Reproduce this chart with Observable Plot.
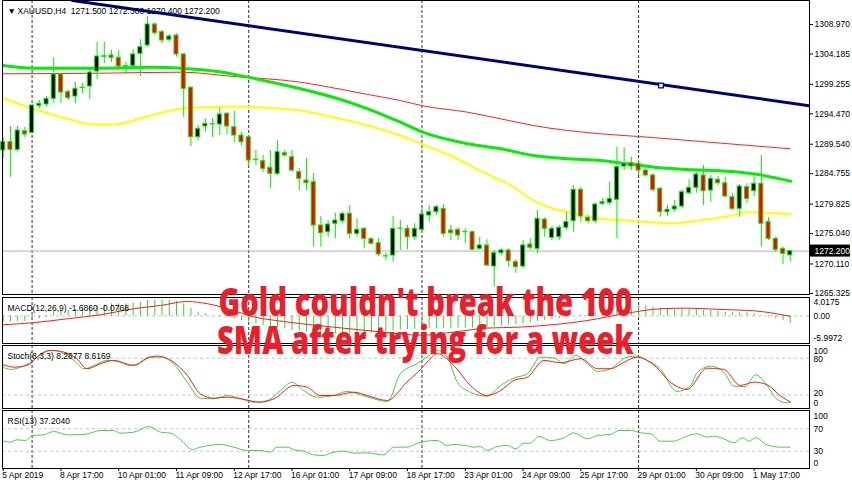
<!DOCTYPE html>
<html><head><meta charset="utf-8">
<script src="https://cdn.jsdelivr.net/npm/d3@7"></script>
<script src="https://cdn.jsdelivr.net/npm/@observablehq/plot@0.6"></script>
<style>
body{margin:0;background:#fff;}
#wrap{position:relative;width:852px;height:485px;overflow:hidden;background:#fff;}
#wrap svg{position:absolute;left:0;}
#note{position:absolute;left:0;top:282px;width:852px;text-align:center;color:#ea1f2b;
 font-family:"Open Sans","Liberation Sans",sans-serif;font-weight:800;font-size:38px;line-height:38px;
 transform:scaleX(0.77);transform-origin:423px 0;white-space:nowrap;}
</style>
</head><body><div id="wrap"><div id="note"></div></div>
<script>
// ---------- DATA ----------
const open  = [1288.52,1289.87,1288.63,1291.65,1291.39,1295.77,1295.99,1296.91,1300.85,1297.98,1297.28,1298.63,1298.91,1301.34,1303.73,1303.94,1303.56,1302.15,1302.26,1304.21,1305.56,1308.97,1307.72,1306.48,1307.18,1304.10,1298.69,1290.68,1292.42,1292.74,1292.74,1294.48,1292.30,1290.95,1290.68,1287.06,1286.78,1285.71,1284.74,1288.08,1287.43,1285.00,1283.65,1283.38,1276.35,1275.26,1276.63,1277.05,1278.25,1275.00,1275.82,1274.13,1273.48,1271.32,1271.48,1275.82,1275.82,1274.45,1275.65,1277.97,1278.51,1279.06,1275.54,1275.65,1275.26,1275.26,1272.57,1273.11,1269.70,1271.86,1272.30,1270.40,1269.70,1273.27,1272.57,1277.32,1274.36,1274.45,1275.98,1277.05,1282.14,1277.60,1277.05,1279.87,1280.04,1280.52,1285.92,1286.46,1286.36,1285.27,1284.47,1282.31,1278.51,1278.95,1279.43,1281.59,1282.47,1284.47,1282.03,1283.77,1283.21,1280.94,1279.06,1282.57,1281.92,1283.12,1276.89,1274.19,1272.57,1271.50];
const high  = [1290.63,1292.42,1292.42,1292.25,1295.99,1296.63,1297.28,1303.56,1301.06,1298.37,1299.60,1299.44,1301.94,1306.09,1306.09,1304.75,1304.75,1302.85,1304.86,1306.48,1310.26,1309.18,1307.99,1307.34,1307.46,1304.21,1298.91,1292.58,1293.66,1293.71,1295.45,1294.69,1294.85,1291.44,1290.95,1288.52,1287.71,1288.52,1290.14,1288.52,1288.52,1285.60,1287.22,1284.79,1277.81,1277.16,1278.35,1278.51,1279.60,1277.44,1275.98,1274.36,1274.24,1271.86,1277.81,1277.16,1276.35,1276.63,1279.32,1279.60,1279.60,1279.76,1276.35,1275.98,1275.82,1275.43,1274.45,1274.03,1272.30,1272.57,1272.57,1270.79,1273.92,1274.19,1278.79,1277.60,1276.19,1276.35,1278.51,1282.84,1282.57,1277.97,1279.97,1280.68,1283.38,1289.06,1288.96,1287.43,1286.90,1285.81,1284.74,1282.57,1279.60,1280.41,1282.14,1283.77,1285.00,1286.09,1284.47,1284.30,1284.19,1281.49,1283.00,1283.12,1284.74,1287.71,1277.60,1274.45,1272.83,1272.30];
const low   = [1287.22,1284.19,1288.25,1290.63,1291.23,1295.29,1295.55,1296.15,1296.15,1296.63,1296.15,1297.72,1296.75,1300.00,1302.59,1302.85,1301.50,1300.85,1301.78,1300.53,1305.28,1307.18,1305.83,1306.09,1303.66,1293.92,1289.17,1290.14,1291.49,1290.63,1290.95,1291.12,1289.82,1289.33,1285.92,1286.09,1285.00,1282.35,1284.47,1287.43,1285.00,1282.03,1282.03,1272.83,1272.83,1274.45,1274.19,1276.63,1274.19,1274.45,1272.57,1273.27,1271.32,1270.67,1270.40,1272.30,1272.41,1273.92,1275.26,1276.89,1277.97,1274.45,1273.92,1273.92,1273.38,1272.30,1272.30,1269.70,1266.34,1271.48,1269.59,1268.61,1269.33,1272.30,1271.76,1274.45,1273.92,1273.92,1275.54,1275.26,1276.89,1276.63,1276.63,1279.60,1279.60,1274.19,1285.27,1285.27,1284.47,1284.19,1281.75,1277.70,1277.81,1278.51,1279.06,1281.38,1281.59,1279.60,1280.13,1282.84,1280.85,1278.79,1277.70,1279.87,1281.06,1272.94,1273.92,1272.02,1270.02,1270.40];
const close = [1289.87,1288.63,1291.77,1291.12,1295.82,1296.10,1296.91,1300.85,1297.93,1297.01,1298.53,1298.69,1301.17,1303.77,1303.82,1303.56,1302.15,1302.20,1304.10,1305.28,1308.97,1307.55,1306.37,1307.02,1304.10,1298.53,1290.68,1292.04,1292.85,1292.79,1294.36,1292.42,1290.95,1289.87,1286.90,1286.96,1285.55,1284.74,1288.25,1287.71,1285.27,1283.93,1283.21,1276.35,1275.10,1276.51,1277.16,1278.25,1275.00,1275.65,1274.19,1273.38,1271.65,1271.37,1275.82,1275.86,1274.45,1275.82,1278.14,1278.51,1279.32,1275.00,1275.10,1274.73,1275.30,1272.41,1273.11,1269.86,1271.86,1272.30,1270.56,1269.59,1273.11,1272.73,1277.44,1275.82,1275.82,1275.98,1276.89,1282.14,1277.81,1277.05,1279.76,1280.13,1280.68,1285.81,1286.36,1285.92,1285.27,1284.47,1282.14,1278.51,1278.90,1279.43,1281.75,1282.47,1284.63,1281.92,1283.93,1283.21,1281.06,1279.06,1282.68,1280.68,1283.12,1276.63,1274.19,1272.41,1271.76,1272.20];

const sma200Bars = [0,13.5,24.6,31.9,41.2,45.7,50.5,55,58.1,64.3,68.9,73.4,82.7,88.1,96.6,109];
const sma200     = [1300.97,1301.06,1301.23,1300.53,1299.6,1298.69,1297.61,1296.63,1295.77,1294.74,1293.66,1292.58,1291.23,1290.79,1289.98,1288.8];
const sma100Bars = [0,4.2,13.5,20.4,24.6,29.7,34.3,41.2,45.7,50.5,55,58.1,64.3,68.9,73.4,78.2,82.7,86.5,91,95.6,100.3,103.9,109.1];
const sma100     = [1302.31,1301.88,1301.88,1302.04,1301.88,1301.34,1300.32,1298.53,1297.17,1295.29,1293.11,1291.49,1289.61,1288.8,1287.71,1287.17,1286.9,1286.36,1285.71,1285.39,1285.16,1284.74,1283.54];
const sma50Bars  = [0,4.2,8.9,12.5,15.3,20.4,24.6,28.3,32.9,36.6,41.2,45.7,50.5,55,58.1,61.9,66.5,70.7,73.4,76.2,79,81.8,86.5,92.4,97,100.3,103.1,105.9,109.1];
const sma50      = [1297.01,1295.29,1293.66,1292.74,1292.74,1294.2,1295.29,1295.55,1295.66,1295.45,1295.01,1293.92,1292.58,1290.95,1289.49,1287.71,1285,1282.57,1280.41,1279.06,1278.35,1277.6,1277.16,1276.72,1277.28,1277.81,1278.51,1278.41,1278.14];
const trendBars  = [9.6,111.7];
const trendPrice = [1312.86,1295.78];
const trendHandle = [{i:91.1, p:1299.07}];

const priceTicks = [1308.970,1304.185,1299.255,1294.470,1289.540,1284.755,1279.825,1275.040,1270.110,1265.325];

const macdHist = [-1.34,-1.34,-1.2,-1.2,-1.0,-0.6,-0.25,0.98,1.2,1.2,1.41,1.56,1.92,2.14,2.43,2.64,2.64,2.64,2.86,3.0,3.37,3.37,3.37,3.37,3.15,2.64,1.7,0.83,0.47,-0.04,-0.25,-0.25,-0.6,-0.98,-1.34,-1.7,-2.07,-2.43,-2.64,-2.79,-3.15,-3.37,-3.51,-3.7,-3.85,-3.95,-4.0,-4.0,-3.95,-3.9,-3.85,-3.75,-3.6,-3.5,-3.3,-3.1,-3.0,-2.9,-2.79,-2.79,-2.79,-2.79,-2.79,-2.64,-2.64,-2.64,-2.64,-2.64,-2.43,-2.21,-2.07,-1.92,-1.7,-1.49,-1.2,-0.98,-0.76,-0.62,-0.4,-0.04,0.25,0.47,0.69,0.83,0.98,1.41,1.7,1.92,2.07,2.14,1.92,1.7,1.56,1.41,1.41,1.41,1.41,1.2,1.2,0.98,0.83,0.69,0.69,0.69,0.47,0.11,-0.25,-0.62,-0.98,-1.686];
const macdSigBars = [0,4.1,8.9,13.5,18,21.8,25.5,28.3,31.9,34.3,38.8,45.7,52.7,57.8,62.4,67,71.6,74.9,78.6,82.3,84.6,87.3,91,94.7,99.4,104,106.3,109];
const macdSig     = [-1.91,-1.48,-0.61,0.26,1.56,2.28,3.15,2.65,1.2,-0.04,-1.2,-2.43,-3.52,-4.2,-3.5,-2.64,-2.43,-2.07,-1.49,-0.62,0.11,0.83,1.56,1.7,1.41,1.12,0.69,-0.08];
const macdTicks  = [4.0175,0,-5.9972];
const macdLabels = ["4.0175","0.00","-5.9972"];

const stochKBars = [0,1,2.4,4,5.6,7,8.4,9.8,11.2,12.6,14.4,15.8,17.6,19,20.4,21.8,23.6,25.5,27.3,29.2,31,32.9,34.7,36.6,38.4,40,41.6,43.5,45.8,47.6,49.5,51.3,53.2,55,57.3,58.7,60.1,61.5,62.9,64.7,67,68.9,70.7,72.6,74.4,76.3,77.7,79.3,80.9,82.3,84.1,86.4,87.8,89.2,91,93.3,95.2,96.1,98,99.8,101.2,102.8,104.2,105.8,107.2,108.6,109];
const stochK     = [65.4,61.7,65.4,74.7,89.9,92.7,87.3,76.3,62.8,68.2,76.3,74.7,68.2,72.6,81.7,81.7,71,41,14.8,13.9,19.2,13.9,8.3,11.1,27.4,41,27.4,16.5,19.2,25.8,20.4,13.9,9.5,54.6,71,81.7,92.7,81.7,41,24.6,18.1,35.6,47.5,54.6,81.7,80.1,71,84.5,71,58.4,62.8,81.7,83.4,76.3,62.8,25.8,35.6,56.3,67,57.3,34.4,33.9,53,35.6,12.7,7.3,8.27];
const stochDBars = [0,1.5,3.3,4.7,6.55,8.4,10.2,11.6,13.5,15.3,18.1,19.9,21.3,23.6,25.5,27.3,29.2,31,32.9,35.6,37.5,40.3,42.1,43.9,45.8,48.6,50.4,53.2,55.9,57.8,58.7,60.1,62.4,64.7,67,68.9,70.7,72.6,74.9,77.2,80,82.3,84.1,86,87.8,89.7,92.9,94.7,97.5,99.8,102.1,104,105.8,107.7,109];
const stochD     = [69.3,65.4,68.2,81.7,92.7,89.9,79.1,62.8,71,76.3,68.2,80.1,83.4,73.6,51.9,22,14.8,16.5,13.9,8.3,13.9,35.6,32.8,19.2,19.2,24.6,19.2,11.1,41,61.7,73.6,87.3,68.2,35.6,19.2,27.4,43.7,49.1,76.3,72.6,79.1,62.8,62.8,73.6,81.7,72.6,36.7,29,63.8,61.7,35.6,41,36.7,18.1,8.62];
const stochTicks = [100,80,20,0];

const rsiBars = [0,1,1.9,3.1,4,5.6,7,8.9,11.2,13.5,15.3,16.2,18.1,20.2,21.8,23.2,24.6,26.2,27.3,30.1,31.9,33.8,35.6,37,37.9,39.3,40.3,41.6,43,44.4,45.3,47.2,48.6,50.4,52.7,54.1,55.9,57.8,60.1,61.5,62.4,64,65.2,66.1,67,68.4,69.8,71,72.1,73,74.2,75.8,77.7,79,80.9,82.3,84.1,85.3,86.9,88.3,89.7,91,92.9,94.3,96.1,97.5,98.4,99.8,101.2,102.4,103.3,104.2,105.8,107.7,109];
const rsi     = [47.9,46.1,50.3,49.1,58,59.2,65.2,59.2,59.8,67,67,62.2,64,74.1,64,62.2,50.3,33,37.2,42,37.2,31.3,31.3,28.3,37.2,37.2,32.4,30,23.5,22.3,26.5,30,26.5,27.1,23.5,37.2,37.2,46.1,49.1,40.2,42,40.2,37.2,38.4,31.3,38.4,40.2,34.2,44.3,44.3,56.3,49.1,53.9,62.8,52.1,58,59.8,67,67,62.8,61,47.9,47.9,55,61,55,56.8,52.1,45,53.9,47.9,53.9,41.4,37.2,37.2];
const rsiTicks = [100,70,30,0];

const weekStarts = [4,34,58,88];
const timeTicks  = [0,8,16,24,32,40,48,56,64,72,80,88,96,104];
const timeLabels = ["5 Apr 2019","8 Apr 17:00","10 Apr 01:00","11 Apr 09:00","12 Apr 17:00","16 Apr 01:00","17 Apr 09:00","18 Apr 17:00","23 Apr 01:00","24 Apr 09:00","25 Apr 17:00","29 Apr 01:00","30 Apr 09:00","1 May 17:00"];

const headerMain  = "XAUUSD,H4  1271.500 1272.300 1270.400 1272.200";
const headerMacd  = "MACD(12,26,9) -1.6860 -0.0768";
const headerStoch = "Stoch(8,3,3) 8.2677 8.6169";
const headerRsi   = "RSI(13) 37.2040";
const noteLines   = ["Gold couldn't break the 100","SMA after trying for a week"];

// ---------- BUILD ----------
const bars = open.map((o,i)=>({i, o, h:high[i], l:low[i], c:close[i]}));
const pts = (xs, ys) => xs.map((x,k)=>({x, y:ys[k]}));
const lastClose = close[close.length-1];
const xDomain = [-0.097, 111.67];
const FONT = "'Liberation Sans', Arial, sans-serif";
const style = {fontFamily: FONT, fontSize: "8.5px", color: "#000", background: "transparent", overflow: "visible"};
const common = {width: 852, marginLeft: 2, marginRight: 43, style};
const sep = () => Plot.ruleX(weekStarts, {stroke: "#333", strokeDasharray: "3,2"});
const header = (t, dy) => Plot.text([t], {frameAnchor: "top-left", dx: 5, dy, textAnchor: "start", fill: "#000"});
const sideLabels = (vals, texts, dys) => vals.map((v,k)=>Plot.text([v], {y: d=>d, text: ()=>texts[k], frameAnchor: "right", textAnchor: "start", dx: 4, dy: dys[k], fill: "#000"}));

const wrap = document.getElementById("wrap");
function place(svg, top){ svg.style.top = top + "px"; wrap.insertBefore(svg, document.getElementById("note")); }

// Main price panel
const main = Plot.plot({
  ...common, height: 296, marginTop: 0, marginBottom: 2,
  x: {domain: xDomain, axis: null},
  y: {domain: [1265.156, 1312.86], axis: null},
  marks: [
    header("\u25BC", 7),
    Plot.text([headerMain], {frameAnchor: "top-left", dx: 15, dy: 7, textAnchor: "start", fill: "#000"}),
    sep(),
    Plot.ruleY([lastClose], {stroke: "#a9b3bd"}),
    Plot.line(pts(sma200Bars, sma200), {x: "x", y: "y", stroke: "#ff2020", strokeWidth: 1, curve: "monotone-x", clip: true}),
    Plot.line(pts(sma50Bars, sma50), {x: "x", y: "y", stroke: "#ffff00", strokeWidth: 2, curve: "monotone-x", clip: true}),
    Plot.line(pts(sma100Bars, sma100), {x: "x", y: "y", stroke: "#00f000", strokeWidth: 3, curve: "monotone-x", clip: true}),
    Plot.ruleX(bars, {x: "i", y1: "l", y2: "h", stroke: "#00ee00"}),
    Plot.rect(bars, {x1: d=>d.i-0.5, x2: d=>d.i+0.5, y1: "o", y2: "c", insetLeft: 1.6, insetRight: 1.6,
      fill: d => d.c >= d.o ? "#000" : "#ff0000", stroke: "#00ee00", strokeWidth: 1}),
    Plot.line(pts(trendBars, trendPrice), {x: "x", y: "y", stroke: "#00007f", strokeWidth: 3, clip: true}),
    Plot.dot(trendHandle, {x: "i", y: "p", symbol: "square", r: 2.6, stroke: "#00007f", fill: "#fff", strokeWidth: 1.3}),
    Plot.axisY({anchor: "right", ticks: priceTicks, tickFormat: d3.format(".3f"), tickSize: 3, tickPadding: 2, label: null}),
    Plot.rect([lastClose], {x1: ()=>xDomain[1], x2: ()=>xDomain[1], y1: d=>d, y2: d=>d, insetLeft: 1, insetRight: -41, insetTop: -6, insetBottom: -6, fill: "#000"}),
    Plot.text([lastClose], {y: d=>d, frameAnchor: "right", textAnchor: "start", dx: 5, text: d=>d3.format(".3f")(d), fill: "#fff"}),
    Plot.frame({stroke: "#000"})
  ]
});
place(main, 0);

// MACD panel
const macd = Plot.plot({
  ...common, height: 48, marginTop: 1, marginBottom: 1,
  x: {domain: xDomain, axis: null},
  y: {domain: [-5.9972, 4.0175], range: [47, 1], axis: null},
  marks: [
    sep(),
    Plot.ruleY([0], {stroke: "#c4c4c4", strokeDasharray: "3,3"}),
    Plot.ruleX(macdHist.map((v,i)=>({i, v})), {x: "i", y1: 0, y2: "v", stroke: "#3ccf3c"}),
    Plot.line(pts(macdSigBars, macdSig), {x: "x", y: "y", stroke: "#ff1a1a", strokeWidth: 1, curve: "monotone-x"}),
    header(headerMacd, 7),
    ...sideLabels(macdTicks, macdLabels, [5, 0, -5]),
    Plot.frame({stroke: "#000"})
  ]
});
place(macd, 296);

// Stochastic panel
const stoch = Plot.plot({
  ...common, height: 65, marginTop: 1, marginBottom: 1,
  x: {domain: xDomain, axis: null},
  y: {domain: [0, 100], range: [62.8, 1.4], axis: null},
  marks: [
    sep(),
    Plot.ruleY([80, 20], {stroke: "#c4c4c4", strokeDasharray: "3,3"}),
    Plot.line(pts(stochKBars, stochK), {x: "x", y: "y", stroke: "#3ccf3c", strokeWidth: 1, curve: "monotone-x"}),
    Plot.line(pts(stochDBars, stochD), {x: "x", y: "y", stroke: "#ff1a1a", strokeWidth: 1, curve: "monotone-x"}),
    header(headerStoch, 7),
    ...sideLabels(stochTicks, stochTicks.map(String), [5, 1, -1.5, -4]),
    Plot.frame({stroke: "#000"})
  ]
});
place(stoch, 344);

// RSI panel + time axis
const rsiPlot = Plot.plot({
  ...common, height: 76, marginTop: 1, marginBottom: 17,
  x: {domain: xDomain, axis: null},
  y: {domain: [0, 100], range: [58.5, 2.5], axis: null},
  marks: [
    sep(),
    Plot.ruleY([70, 30], {stroke: "#c4c4c4", strokeDasharray: "3,3"}),
    Plot.line(pts(rsiBars, rsi), {x: "x", y: "y", stroke: "#4ccf4c", strokeWidth: 1, curve: "monotone-x"}),
    header(headerRsi, 7),
    ...sideLabels(rsiTicks, rsiTicks.map(String), [4.5, 0.7, 0, -5]),
    Plot.axisX({anchor: "bottom", ticks: timeTicks, tickFormat: () => "", tickSize: 3, label: null}),
    Plot.text(timeTicks, {x: d=>d, text: (d,k)=>timeLabels[k], frameAnchor: "bottom", textAnchor: "start", dy: 9, dx: -1, fill: "#000"}),
    Plot.frame({stroke: "#000"})
  ]
});
place(rsiPlot, 409);

// Annotation
document.getElementById("note").innerHTML = noteLines.map(t=>`<div>${t}</div>`).join("");
</script>
</body></html>
